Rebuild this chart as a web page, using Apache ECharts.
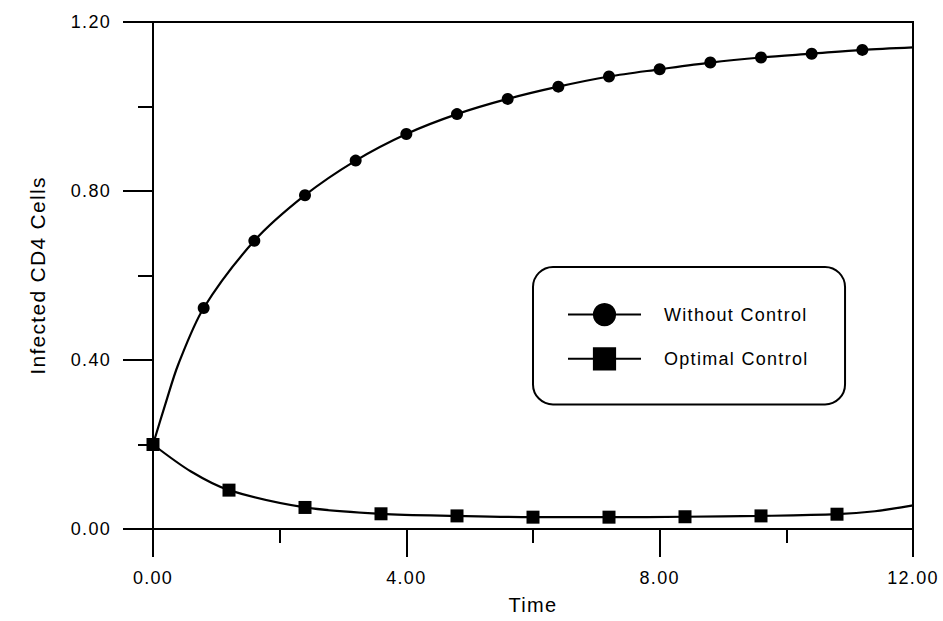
<!DOCTYPE html>
<html>
<head>
<meta charset="utf-8">
<script src="https://cdn.jsdelivr.net/npm/echarts@6/dist/echarts.min.js"></script>
<style>
  html, body { margin: 0; padding: 0; background: #fff; }
  /* the svg text picks this up, the original has wide spaced letters */
  #chart { width: 943px; height: 621px; letter-spacing: 1.3px; }
</style>
</head>
<body>
<div id="chart"></div>
<script>
// Without Control
let timeA = [0, 0.2, 0.4, 0.8, 1.6, 2.4, 3.2, 4.0, 4.8, 5.6, 6.4, 7.2, 8.0, 8.8, 9.6, 10.4, 11.2, 12.0]
let valA = [0.200, 0.298, 0.390, 0.523, 0.682, 0.790, 0.872, 0.935, 0.982, 1.018, 1.047, 1.071, 1.088, 1.104, 1.116, 1.125, 1.134, 1.140]
let markA = [1, 0, 0, 1, 1, 1, 1, 1, 1, 1, 1, 1, 1, 1, 1, 1, 1, 0]

// Optimal Control
let timeB = [0, 0.6, 1.2, 2.4, 3.6, 4.8, 6.0, 7.2, 8.4, 9.6, 10.8, 11.4, 12.0]
let valB = [0.200, 0.136, 0.092, 0.051, 0.036, 0.031, 0.028, 0.028, 0.029, 0.031, 0.035, 0.042, 0.056]
let markB = [1, 0, 1, 1, 1, 1, 1, 1, 1, 1, 1, 0, 0]

let seriesNames = ['Without Control', 'Optimal Control']
let xTicks = [0, 4, 8, 12]
let yTicks = [0, 0.4, 0.8, 1.2]

function buildData(ts, vs, marks) {
  return ts.map((t, i) => ({
    value: [t, vs[i]],
    symbol: marks[i] ? undefined : 'none'
  }))
}

let font = '"Liberation Sans", Arial, sans-serif'

let myChart = echarts.init(document.getElementById('chart'), null, { renderer: 'svg' })

let option = {
  animation: false,
  backgroundColor: '#fff',
  textStyle: { fontFamily: font, color: '#000' },
  grid: {
    left: 153, right: 30, top: 22, bottom: 92,
    show: true, borderColor: '#000', borderWidth: 2
  },
  legend: {
    left: 533, top: 267,
    orient: 'vertical',
    data: seriesNames,
    itemWidth: 73,
    itemHeight: 29,
    itemGap: 21,
    padding: [36, 56, 34, 34],
    borderColor: '#000',
    borderWidth: 2,
    borderRadius: 20,
    backgroundColor: '#fff',
    textStyle: { fontSize: 18, color: '#000', fontFamily: font, padding: [0, 0, 0, 18] }
  },
  xAxis: {
    type: 'value',
    min: xTicks[0], max: xTicks[xTicks.length - 1], interval: 4,
    name: 'Time',
    nameLocation: 'middle',
    nameGap: 66,
    nameTextStyle: { fontSize: 20, color: '#000', fontFamily: font },
    axisLine: { onZero: false, lineStyle: { color: '#000', width: 2 } },
    axisTick: { length: 28, lineStyle: { color: '#000', width: 2 } },
    minorTick: { show: true, splitNumber: 2, length: 14, lineStyle: { color: '#000', width: 2 } },
    axisLabel: { margin: 40, fontSize: 18, color: '#000', fontFamily: font, formatter: v => v.toFixed(2) },
    splitLine: { show: false }
  },
  yAxis: {
    type: 'value',
    min: yTicks[0], max: yTicks[yTicks.length - 1], interval: 0.4,
    name: 'Infected CD4 Cells',
    nameLocation: 'middle',
    nameGap: 105,
    nameTextStyle: { fontSize: 21, color: '#000', fontFamily: font },
    axisLine: { show: true, onZero: false, lineStyle: { color: '#000', width: 2 } },
    axisTick: { show: true, length: 30, lineStyle: { color: '#000', width: 2 } },
    minorTick: { show: true, splitNumber: 2, length: 15, lineStyle: { color: '#000', width: 2 } },
    axisLabel: { margin: 42, fontSize: 18, color: '#000', fontFamily: font, formatter: v => v.toFixed(2) },
    splitLine: { show: false }
  },
  series: [
    {
      name: seriesNames[0],
      type: 'line',
      data: buildData(timeA, valA, markA),
      smooth: 0.3,
      symbol: 'circle',
      symbolSize: 12,
      showAllSymbol: true,
      color: '#000',
      lineStyle: { color: '#000', width: 2.2 },
      itemStyle: { color: '#000' }
    },
    {
      name: seriesNames[1],
      type: 'line',
      data: buildData(timeB, valB, markB),
      smooth: 0.3,
      symbol: 'rect',
      symbolSize: 13,
      showAllSymbol: true,
      color: '#000',
      lineStyle: { color: '#000', width: 2.2 },
      itemStyle: { color: '#000' }
    }
  ]
}

myChart.setOption(option)
</script>
</body>
</html>
